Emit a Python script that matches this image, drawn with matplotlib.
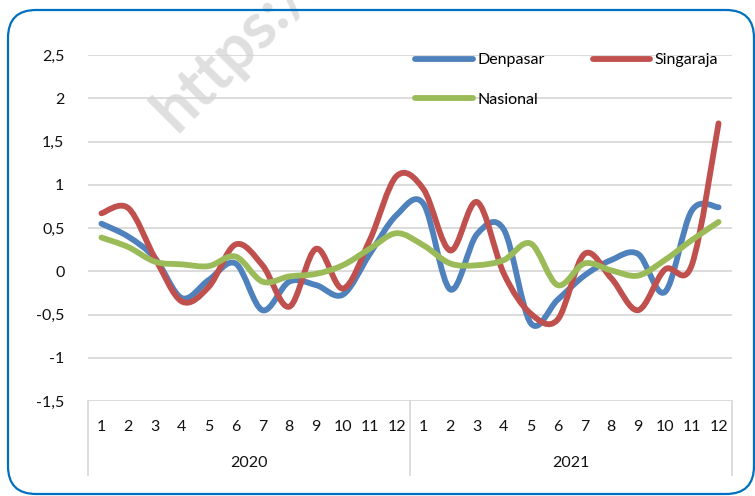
import matplotlib.pyplot as plt
from matplotlib.path import Path
from matplotlib.patches import PathPatch, FancyBboxPatch
from matplotlib.lines import Line2D
from matplotlib.ticker import FuncFormatter

years = ['2020', '2021']
months = [str(m) for m in range(1, 13)] * 2

denpasar = [0.55, 0.40, 0.15, -0.31, -0.10, 0.09, -0.45, -0.12, -0.16, -0.27, 0.20, 0.65,
            0.78, -0.21, 0.43, 0.48, -0.60, -0.33, -0.05, 0.13, 0.20, -0.24, 0.70, 0.74]
singaraja = [0.67, 0.73, 0.15, -0.35, -0.18, 0.31, 0.07, -0.41, 0.26, -0.20, 0.36, 1.10,
             0.95, 0.24, 0.80, -0.03, -0.49, -0.56, 0.20, -0.08, -0.45, 0.02, 0.07, 1.71]
nasional = [0.39, 0.28, 0.11, 0.08, 0.06, 0.17, -0.12, -0.06, -0.03, 0.07, 0.26, 0.44,
            0.30, 0.09, 0.07, 0.13, 0.32, -0.16, 0.09, 0.01, -0.05, 0.13, 0.36, 0.57]

series = [('Denpasar', denpasar, '#4F81BD'),
          ('Singaraja', singaraja, '#C0504D'),
          ('Nasional', nasional, '#9BBB59')]

plt.rcParams['font.family'] = ['Lato', 'DejaVu Sans']


def smooth_path(xs, ys):
    # Excel-like smoothed line: Catmull-Rom converted to cubic Bezier segments
    pts = list(zip(xs, ys))
    verts = [pts[0]]
    codes = [Path.MOVETO]
    n = len(pts)
    for i in range(n - 1):
        p0 = pts[i - 1] if i > 0 else pts[i]
        p1 = pts[i]
        p2 = pts[i + 1]
        p3 = pts[i + 2] if i + 2 < n else pts[i + 1]
        c1 = (p1[0] + (p2[0] - p0[0]) / 6, p1[1] + (p2[1] - p0[1]) / 6)
        c2 = (p2[0] - (p3[0] - p1[0]) / 6, p2[1] - (p3[1] - p1[1]) / 6)
        verts += [c1, c2, p2]
        codes += [Path.CURVE4] * 3
    return Path(verts, codes)


fig = plt.figure(figsize=(7.55, 4.96), dpi=100)
ax = fig.add_axes([0.1166, 0.1915, 0.8529, 0.6976])

x = list(range(len(months)))
for name, vals, color in series:
    patch = PathPatch(smooth_path(x, vals), facecolor='none', edgecolor=color,
                      lw=4.2, capstyle='round', joinstyle='round', zorder=3)
    ax.add_patch(patch)

ax.set_xlim(-0.5, 23.5)
ax.set_ylim(-1.5, 2.5)
ax.set_yticks([-1.5, -1, -0.5, 0, 0.5, 1, 1.5, 2, 2.5])
ax.yaxis.set_major_formatter(FuncFormatter(lambda v, p: ('%g' % v).replace('.', ',')))
ax.grid(axis='y', color='#d9d9d9', lw=1.3)
ax.set_axisbelow(True)
for s in ax.spines.values():
    s.set_visible(False)
ax.tick_params(axis='y', length=0, pad=17, labelsize=11.5, labelcolor='#111111')

ax.set_xticks(x)
ax.set_xticklabels(months)
ax.tick_params(axis='x', length=0, pad=14, labelsize=11.5, labelcolor='#111111')

trans = ax.get_xaxis_transform()
for k, yr in enumerate(years):
    ax.text(k * 12 + 5.5, -0.18, yr, transform=trans, ha='center', va='center',
            fontsize=11.5, color='#111111')
for xb in [-0.5, 11.5, 23.5]:
    ax.plot([xb, xb], [0, -0.214], transform=trans, color='#d9d9d9', lw=1.3,
            clip_on=False)

# legend fills column by column, so order gives rows: Denpasar Singaraja / Nasional
order = [0, 2, 1]
handles = [Line2D([], [], color=series[i][2], lw=4.2, solid_capstyle='round') for i in order]
ax.legend(handles, [series[i][0] for i in order], ncol=2, frameon=False,
          loc='upper left', bbox_to_anchor=(415 / 755, 1 - 53 / 496),
          bbox_transform=fig.transFigure, borderpad=0, borderaxespad=0,
          handlelength=3.6, handletextpad=0.3, columnspacing=3.0,
          labelspacing=1.6, fontsize=11.5)

fig.text(176 / 755, 1 - 134 / 496, 'https://', rotation=45, rotation_mode='anchor',
         ha='left', va='baseline', fontsize=46, fontweight='bold',
         color='#d4d4d4', alpha=0.75, zorder=10)

border = FancyBboxPatch((0.08, 0.02), 7.46, 4.84,
                        boxstyle='round,pad=0,rounding_size=0.28',
                        transform=fig.dpi_scale_trans, facecolor='none',
                        edgecolor='#0070C0', lw=1.6, zorder=20)
fig.patches.append(border)

fig.savefig('out.png', dpi=100)
